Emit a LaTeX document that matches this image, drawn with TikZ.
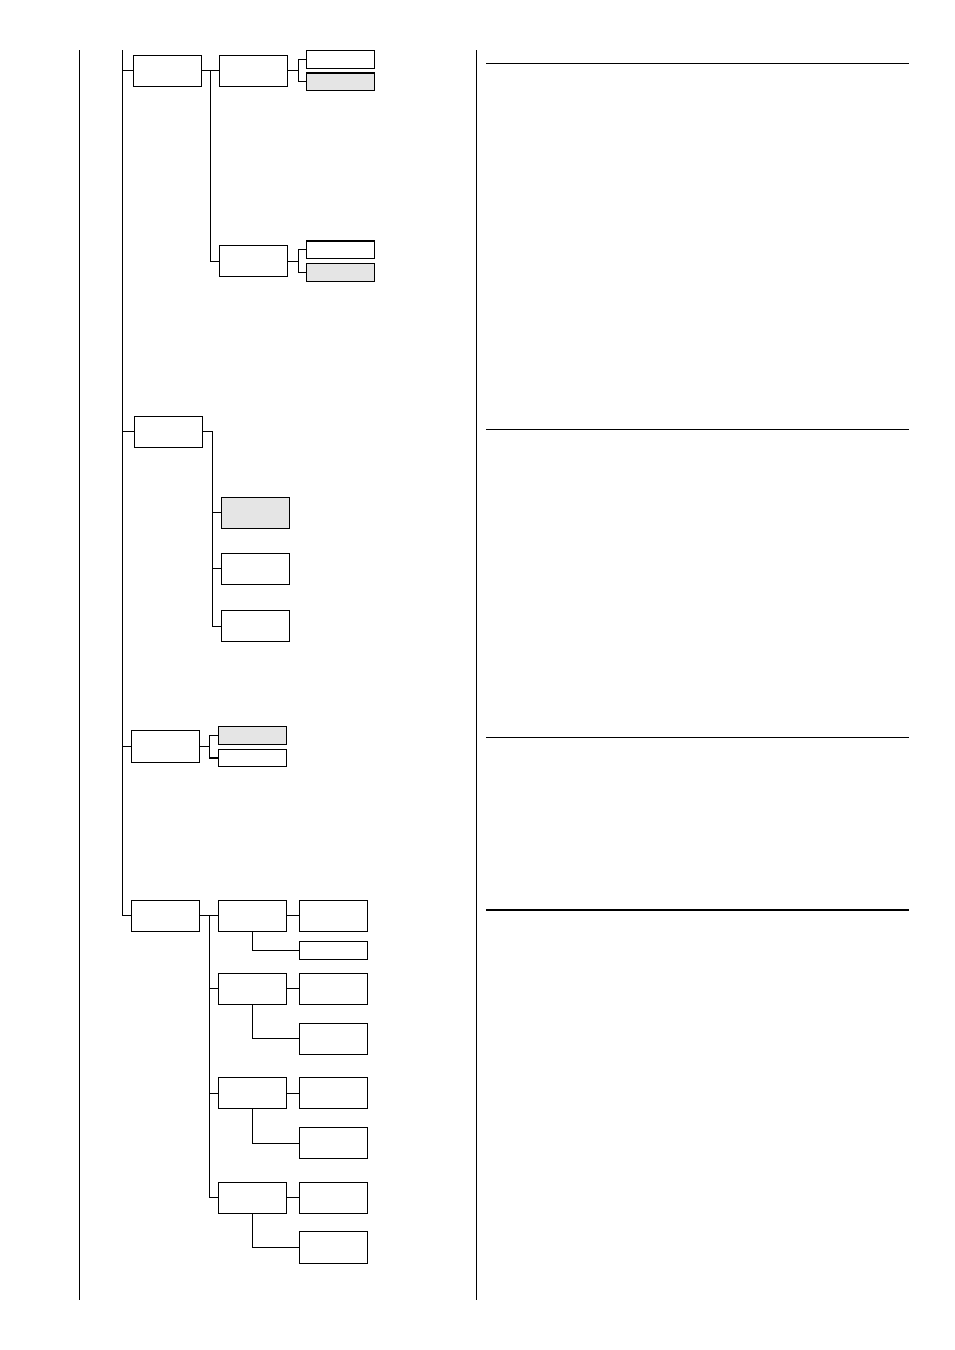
\documentclass[tikz,border=0pt]{standalone}
\usepackage{tikz}
\usetikzlibrary{positioning, calc}

\begin{document}
\begin{tikzpicture}[x=0.75pt, y=-0.75pt, line width=0.8pt,
    box/.style={draw, fill=white, minimum width=51pt, minimum height=23.4pt, inner sep=0pt},
    slim/.style={box, minimum height=13.2pt},
    shaded/.style={fill=gray!20}]

    \useasboundingbox (0,0) rectangle (954,1350);

    % ================= Frame lines =================
    \coordinate (outertop) at (79.5,50);
    \coordinate (outerbot) at (79.5,1300);
    \coordinate (sidetop) at (476.7,50);
    \coordinate (sidebot) at (476.7,1300);
    \coordinate (trunk) at (122.3,50);
    \draw (outertop) -- (outerbot);
    \draw (sidetop) -- (sidebot);

    % Separator rules on the right
    \foreach \y in {63.3, 429.3, 737.7, 910} {
        \draw (486,\y) -- (909,\y);
    }

    % ================= Group 1 =================
    \node[box] (a1) at (167.3,70.8) {};
    \node[box] (b1) at (253.8,70.8) {};
    \node[box] (b2) at (253.8,261.3) {};
    \node[slim] (c1) at (340.3,59.3) {};
    \node[slim, shaded] (c2) at (340.3,81.8) {};
    \node[slim] (c3) at (340.3,249.8) {};
    \node[slim, shaded] (c4) at (340.3,272.3) {};

    \draw (a1.east) -- (b1.west);
    \draw (a1.east) ++(9,0) |- (b2.west);
    \draw (b1.east) -- ++(10,0) coordinate (fork1) |- (c1.west);
    \draw (fork1) |- (c2.west);
    \draw (b2.east) -- ++(10,0) coordinate (fork2) |- (c3.west);
    \draw (fork2) |- (c4.west);

    % ================= Group 2 =================
    \node[box] (a2) at (168.3,431.8) {};
    \node[box, shaded] (d1) at (255.5,512.8) {};
    \node[box] (d2) at (255.5,568.8) {};
    \node[box] (d3) at (255.5,626.3) {};

    \draw (a2.east) -- ++(9.7,0) coordinate (fork3) |- (d3.west);
    \draw (fork3) |- (d1.west);
    \draw (fork3) |- (d2.west);

    % ================= Group 3 =================
    \node[box] (a3) at (165.3,746.5) {};
    \node[slim, shaded] (e1) at (252.2,735.3) {};
    \node[slim] (e2) at (252.2,758) {};

    \draw (a3.east) -- ++(9.4,0) coordinate (fork4) |- (e1.west);
    \draw (fork4) |- (e2.west);

    % ================= Group 4 =================
    \node[box] (a4) at (165.3,915.8) {};
    \node[box] (f1) at (252.3,915.8) {};
    \node[box] (f2) at (252.3,988.8) {};
    \node[box] (f3) at (252.3,1093.3) {};
    \node[box] (f4) at (252.3,1197.8) {};
    \node[box] (g1) at (333.8,915.8) {};
    \node[slim] (g2) at (333.8,950.3) {};
    \node[box] (g3) at (333.8,988.8) {};
    \node[box] (g4) at (333.8,1038.8) {};
    \node[box] (g5) at (333.8,1093.3) {};
    \node[box] (g6) at (333.8,1143.2) {};
    \node[box] (g7) at (333.8,1197.8) {};
    \node[box] (g8) at (333.8,1247.5) {};

    \draw (a4.east) -- (f1.west);
    \draw (a4.east) ++(9.4,0) coordinate (fork5) |- (f4.west);
    \draw (fork5) |- (f2.west);
    \draw (fork5) |- (f3.west);
    \draw (f1) -- (g1);
    \draw (f2) -- (g3);
    \draw (f3) -- (g5);
    \draw (f4) -- (g7);
    \draw (f1.south) |- (g2.west);
    \draw (f2.south) |- (g4.west);
    \draw (f3.south) |- (g6.west);
    \draw (f4.south) |- (g8.west);

    % ================= Trunk =================
    \draw (trunk) |- (a4.west);
    \draw (a1.west) -- (a1.west -| trunk);
    \draw (a2.west) -- (a2.west -| trunk);
    \draw (a3.west) -- (a3.west -| trunk);

\end{tikzpicture}
\end{document}
